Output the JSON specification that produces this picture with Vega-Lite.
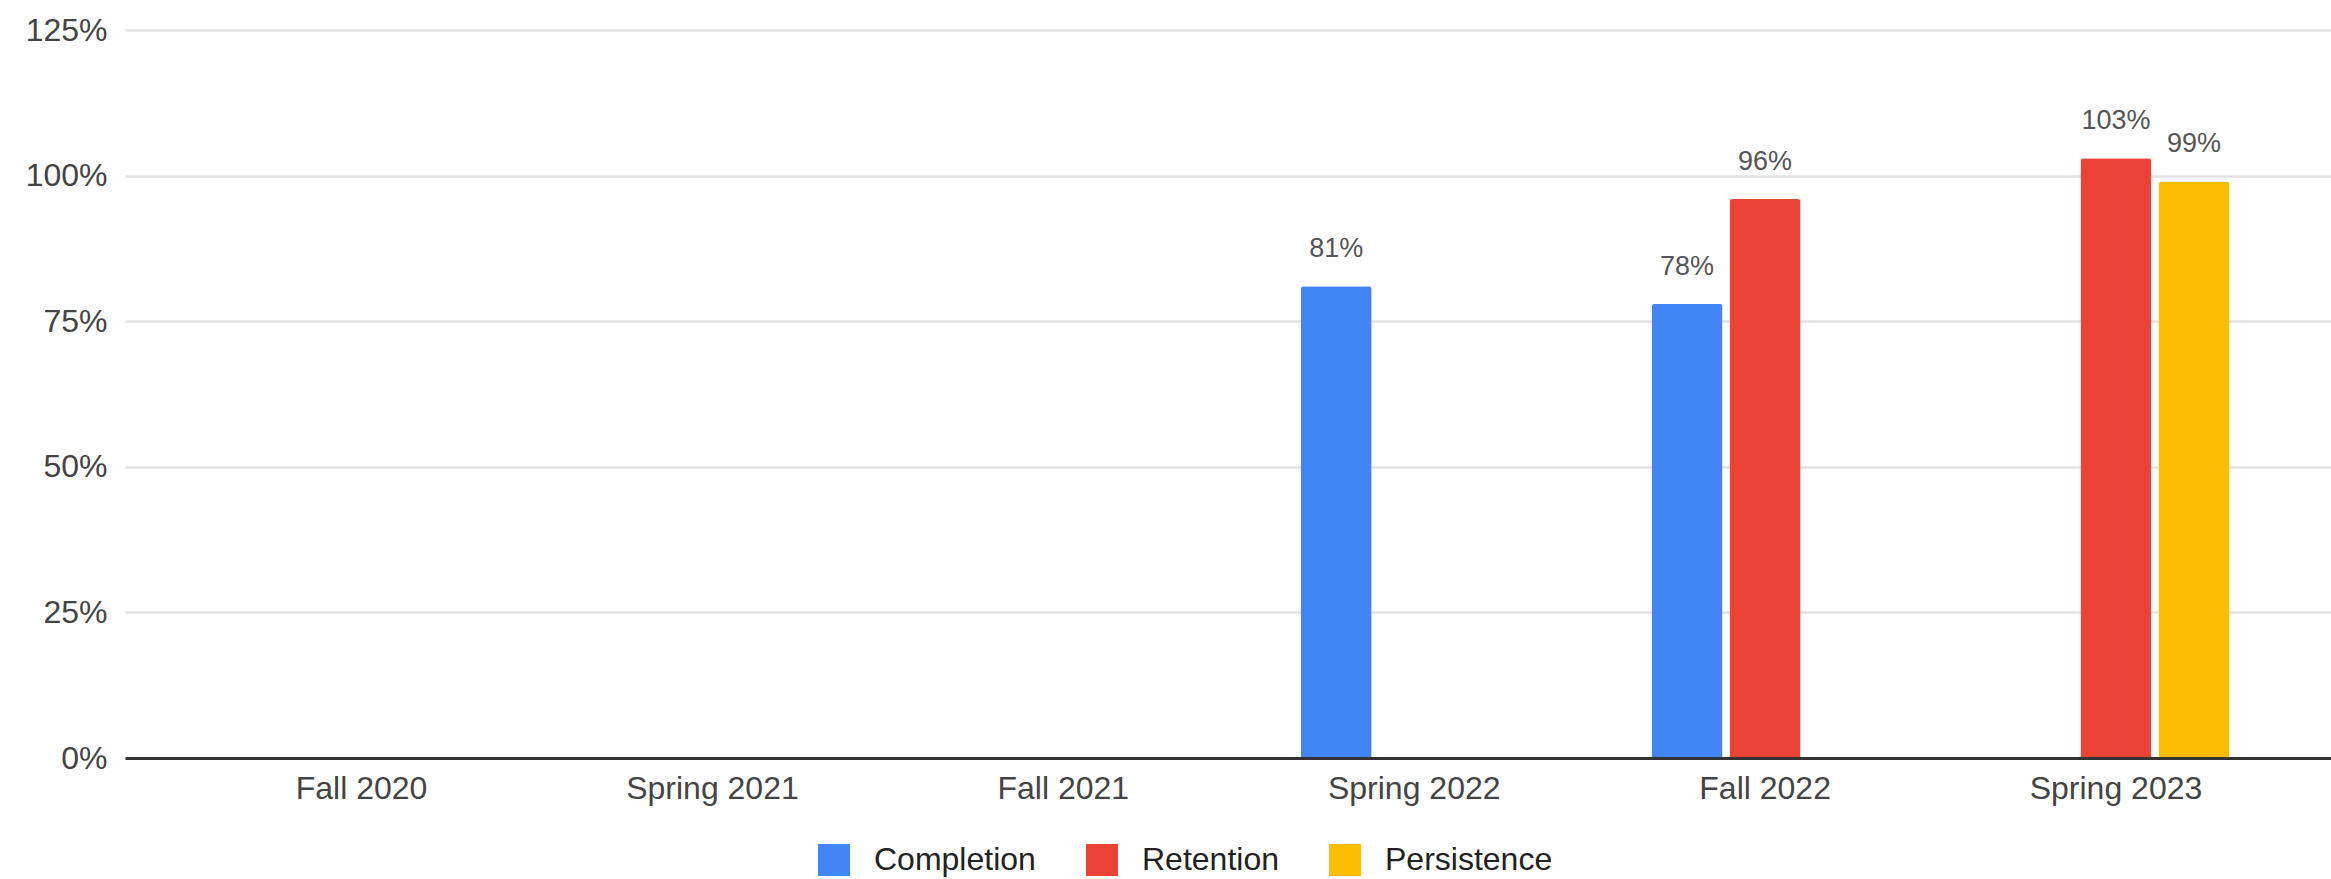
{
  "$schema": "https://vega.github.io/schema/vega-lite/v6.json",
  "width": 2206,
  "height": 728,
  "autosize": {"type": "none"},
  "padding": {"left": 125, "top": 30, "right": 0, "bottom": 121},
  "background": "white",
  "config": {"view": {"stroke": null}, "font": "Liberation Sans"},
  "data": {
    "values": [
      {"term": "Spring 2022", "metric": "Completion", "value": 0.81},
      {"term": "Fall 2022", "metric": "Completion", "value": 0.78},
      {"term": "Fall 2022", "metric": "Retention", "value": 0.96},
      {"term": "Spring 2023", "metric": "Retention", "value": 1.03},
      {"term": "Spring 2023", "metric": "Persistence", "value": 0.99}
    ]
  },
  "encoding": {
    "x": {
      "field": "term",
      "type": "nominal",
      "sort": null,
      "scale": {
        "domain": ["Fall 2020", "Spring 2021", "Fall 2021", "Spring 2022", "Fall 2022", "Spring 2023"],
        "paddingInner": 0.353,
        "paddingOuter": 0.32,
        "align": 0.548
      },
      "axis": {
        "title": null,
        "labelAngle": 0,
        "domain": true,
        "domainColor": "#333333",
        "domainWidth": 3,
        "ticks": false,
        "grid": false,
        "labelFontSize": 32,
        "labelColor": "#444444",
        "labelPadding": 15,
        "labelLimit": 0,
        "zindex": 1
      }
    },
    "xOffset": {
      "field": "metric",
      "type": "nominal",
      "scale": {"domain": ["Completion", "Retention", "Persistence"], "paddingInner": 0.09, "paddingOuter": 0}
    },
    "y": {
      "field": "value",
      "type": "quantitative",
      "scale": {"domain": [0, 1.25], "nice": false},
      "axis": {
        "title": null,
        "values": [0, 0.25, 0.5, 0.75, 1, 1.25],
        "format": ".0%",
        "grid": true,
        "gridColor": "#e2e2e2",
        "gridWidth": 2.5,
        "domain": false,
        "ticks": false,
        "labelFontSize": 32,
        "labelColor": "#444444",
        "labelPadding": 18,
        "zindex": 0
      }
    }
  },
  "layer": [
    {
      "mark": {"type": "bar", "cornerRadiusTopLeft": 3, "cornerRadiusTopRight": 3},
      "encoding": {
        "color": {
          "field": "metric",
          "type": "nominal",
          "scale": {"domain": ["Completion", "Retention", "Persistence"], "range": ["#4285F4", "#EA4335", "#FBBC04"]},
          "legend": {
            "title": null,
            "orient": "none",
            "legendX": 693,
            "legendY": 814,
            "direction": "horizontal",
            "symbolType": "square",
            "symbolSize": 1024,
            "symbolStrokeWidth": 0,
            "symbolOpacity": 1,
            "labelFontSize": 32,
            "labelColor": "#222222",
            "labelOffset": 24,
            "labelLimit": 0,
            "columnPadding": 50,
            "padding": 0
          }
        }
      }
    },
    {
      "mark": {"type": "text", "baseline": "alphabetic", "dy": -29, "fontSize": 27, "color": "#555555"},
      "encoding": {
        "text": {"field": "value", "type": "quantitative", "format": ".0%"}
      }
    }
  ]
}
